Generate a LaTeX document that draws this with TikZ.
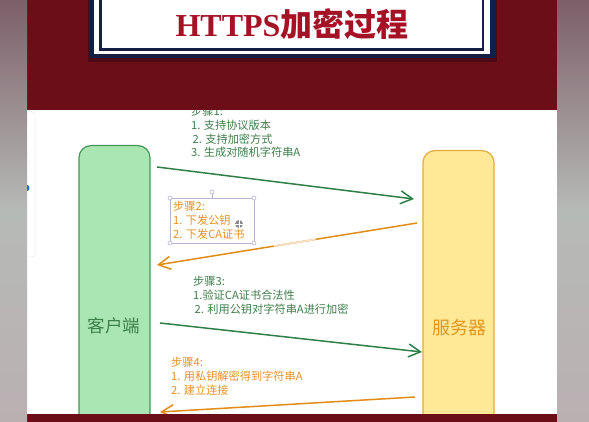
\documentclass[tikz,border=0pt]{standalone}
\usepackage{fontspec}
\setmainfont{Noto Sans CJK SC}
\newfontfamily\cjk{Noto Sans CJK SC}
\newfontfamily\titleserif{Liberation Serif}
\usetikzlibrary{arrows.meta,calc}
\definecolor{bandred}{RGB}{108,14,24}
\definecolor{shadowred}{RGB}{78,10,20}
\definecolor{navy}{RGB}{22,30,68}
\definecolor{titlered}{RGB}{165,18,38}
\definecolor{stripTop}{RGB}{125,95,105}
\definecolor{stripMid}{RGB}{182,186,182}
\definecolor{stripBot}{RGB}{186,176,178}
\definecolor{clientfill}{RGB}{170,229,180}
\definecolor{clientdraw}{RGB}{70,150,88}
\definecolor{clienttext}{RGB}{60,128,72}
\definecolor{serverfill}{RGB}{255,232,150}
\definecolor{serverdraw}{RGB}{226,172,62}
\definecolor{servertext}{RGB}{226,150,32}
\definecolor{arrgreen}{RGB}{45,128,70}
\definecolor{arrorange}{RGB}{226,140,22}
\definecolor{stepgreen}{RGB}{62,126,74}
\definecolor{steporange}{RGB}{228,146,36}
\definecolor{selgray}{RGB}{180,180,208}
\definecolor{bluedot}{RGB}{30,100,225}
\tikzset{
  party/.style={rounded corners=12pt, line width=1.2pt, minimum width=71pt, anchor=north},
  msg/.style={line width=1.5pt, -{Straight Barb[length=12pt,width=13pt,line width=1.5pt]}},
  steptext/.style={font=\cjk\fontsize{11.2}{13.7}\selectfont, align=left, anchor=north west, inner sep=0pt},
  handle/.style={circle, draw=selgray, fill=white, line width=0.6pt, inner sep=0pt, minimum size=4pt}
}
\begin{document}
\begin{tikzpicture}[x=1pt,y=-1pt]
\useasboundingbox (0,0) rectangle (589,422);
% white panel
\fill[white] (27,0) rectangle (557,422);
% faint side panel
\draw[black!6, line width=0.6pt, rounded corners=3pt] (-10,112) rectangle (35,257);
% parties
\node[party, draw=clientdraw, fill=clientfill, minimum height=290pt] (client) at (114.5,145) {};
\node[font=\cjk\fontsize{17.5}{20}\selectfont, text=clienttext] (clientlbl) at (114,326) {客户端};
\node[party, draw=serverdraw, fill=serverfill, minimum height=285pt] (server) at (458.5,150) {};
\node[font=\cjk\fontsize{18}{20}\selectfont, text=servertext] (serverlbl) at (459,328) {服务器};
% anchor coordinates for messages
\coordinate (m1s) at (157,167);
\coordinate (m1e) at (414,199);
\coordinate (m2s) at (417,223);
\coordinate (m2e) at (157,265);
\coordinate (m3s) at (160,323);
\coordinate (m3e) at (422,352);
\coordinate (m4s) at (415,397);
\coordinate (m4e) at (160,412);
% messages
\draw[msg, arrgreen] (m1s) -- (m1e);
\draw[msg, arrorange] (m2s) -- (m2e);
\draw[line width=1.6pt, arrorange!25!white] ($(m2s)!0.55!(m2e)$) -- ($(m2s)!0.39!(m2e)$);
\draw[msg, arrgreen] (m3s) -- (m3e);
\draw[msg, arrorange] (m4s) -- (m4e);
% step texts
\node[steptext, text=stepgreen] (step1) at (191,106) {步骤1:\\1. 支持协议版本\\\hspace{1.5pt}2. 支持加密方式\\3. 生成对随机字符串A};
\node[steptext, text=steporange] (step2) at (173,201) {步骤2:\\1. 下发公钥\\2. 下发CA证书};
\node[steptext, text=stepgreen] (step3) at (193,276) {步骤3:\\1.验证CA证书合法性\\\hspace{1.5pt}2. 利用公钥对字符串A进行加密};
\node[steptext, text=steporange] (step4) at (171,357) {步骤4:\\1. 用私钥解密得到字符串A\\2. 建立连接};
% selection frame around step 2
\draw[selgray, line width=0.7pt] (170,198) rectangle (254,243);
\draw[selgray, line width=0.5pt] (212,198) -- (212,194);
\node[handle] (h1) at (170,198) {};
\node[handle] (h2) at (254,198) {};
\node[handle] (h3) at (170,243) {};
\node[handle] (h4) at (254,243) {};
\node[handle] (h5) at (212,192) {};
\node[circle, fill=black!45, inner sep=0pt, minimum size=8pt] (move) at (239,224) {};
\draw[white, line width=0.6pt] (move.west) -- (move.east) (move.north) -- (move.south);
% top red band and title box
\fill[bandred] (27,0) rectangle (557,110);
\fill[shadowred] (88,-5) rectangle (497,62);
\fill[navy] (90,-5) rectangle (495,58);
\fill[white] (94,-5) rectangle (490,54);
\draw[navy, line width=2.3pt] (100.5,-10) -- (100.5,49.5) -- (483,49.5) -- (483,-10);
\node[text=titlered, inner sep=0pt] (title) at (292,24) {\fontsize{32}{34}\selectfont\titleserif\bfseries HTTPS\cjk\bfseries 加密过程};
% bottom red band
\fill[bandred] (27,414) rectangle (557,422);
% blue dot
\fill[bluedot] (26,188) circle (3.5pt);
% side strips
\shade[top color=stripTop, bottom color=stripBot, middle color=stripMid] (0,0) rectangle (27,422);
\shade[top color=stripTop, bottom color=stripBot, middle color=stripMid] (557,0) rectangle (589,422);
\end{tikzpicture}
\end{document}
